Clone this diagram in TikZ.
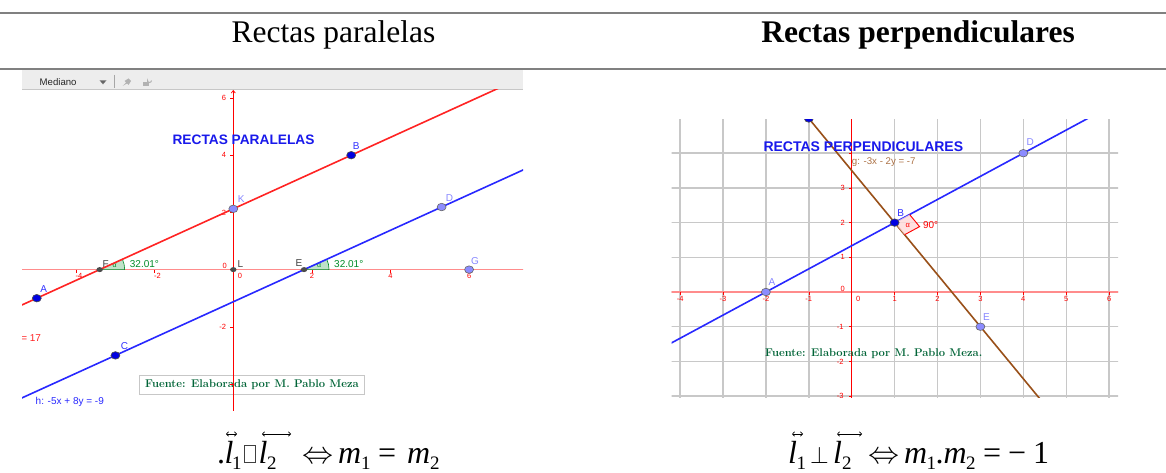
\documentclass[tikz,border=0pt]{standalone}
\usepackage{amsmath}
\usepackage{graphicx}
\usepackage{fontspec}
\newfontfamily\timesfont{Liberation Serif}
\setsansfont{Liberation Sans}
\usetikzlibrary{arrows.meta,shapes.geometric}
\definecolor{ggblue}{RGB}{40,40,255}
\definecolor{ggred}{RGB}{255,35,35}
\definecolor{ggxaxis}{RGB}{255,140,140}
\definecolor{ggbrown}{RGB}{153,80,25}
\definecolor{ggpt}{RGB}{140,140,255}
\definecolor{ggdark}{RGB}{0,0,225}
\definecolor{gglabel}{RGB}{135,135,255}
\definecolor{gglabdark}{RGB}{50,50,255}
\definecolor{ggtitle}{RGB}{25,25,235}
\definecolor{gggreen}{RGB}{0,100,55}
\definecolor{ggangle}{RGB}{0,140,40}
\definecolor{gggrid}{RGB}{200,200,200}
\definecolor{rulegray}{RGB}{128,128,128}
\begin{document}
\begin{tikzpicture}[x=1pt,y=-1pt,
  lbl/.style={font=\sffamily\fontsize{10}{11}\selectfont, inner sep=0pt},
  tick/.style={font=\sffamily\fontsize{7.5}{8}\selectfont, text=red, inner sep=0pt},
  ptl/.style={ellipse, draw=black!60, line width=0.6pt, fill=ggpt, minimum width=9pt, minimum height=7.5pt, inner sep=0pt},
  ptd/.style={ellipse, draw=black!70, line width=0.6pt, fill=ggdark, minimum width=9pt, minimum height=7.5pt, inner sep=0pt},
  pts/.style={ellipse, fill=black!70, minimum width=6.5pt, minimum height=5pt, inner sep=0pt},
  fuente/.style={font=\bfseries\fontsize{11.2}{13}\selectfont, text=gggreen, inner sep=0pt},
  titl/.style={font=\sffamily\bfseries\fontsize{13.7}{15}\selectfont, text=ggtitle, inner sep=0pt, anchor=west},
  head/.style={font=\timesfont\fontsize{31.5}{36}\selectfont, inner sep=0pt, anchor=base},
  fm/.style={font=\timesfont\fontsize{32}{36}\selectfont, inner sep=0pt, anchor=base west},
  fmi/.style={fm, font=\timesfont\itshape\fontsize{32}{36}\selectfont},
  fsub/.style={font=\timesfont\fontsize{19}{21}\selectfont, inner sep=0pt, anchor=base west},
  fsym/.style={font=\fontsize{10}{12}\selectfont, inner sep=0pt, anchor=base west},
  oarrow/.style={line width=0.7pt, {Straight Barb[length=2.2pt,width=4.5pt]}-{Straight Barb[length=2.2pt,width=4.5pt]}},
  sector/.style={fill=ggangle!25, draw=ggangle, line width=0.6pt},
]
\fill[white] (0,0) rectangle (1166,473);
\useasboundingbox (0,0) rectangle (1166,473);
% table rules
\draw[rulegray, line width=2pt] (0,12.7) -- (1166,12.7);
\draw[rulegray, line width=2pt] (0,69.3) -- (1166,69.3);
\node[head] (h1) at (333.5,43) {Rectas paralelas};
\node[head, font=\timesfont\bfseries\fontsize{31.5}{36}\selectfont] (h2) at (918,43) {Rectas perpendiculares};

% ---------- left screenshot: toolbar ----------
\fill[black!7] (22,70.5) rectangle (523,89.5);
\draw[black!22, line width=0.8pt] (22,89.5) -- (523,89.5);
\node[anchor=west, font=\sffamily\fontsize{9.6}{10}\selectfont, text=black!85, inner sep=0pt] (mediano) at (39.5,82) {Mediano};
\fill[black!60] (99.5,80.3) -- (106.5,80.3) -- (103,84.3) -- cycle;
\draw[black!35, line width=0.8pt] (114.5,75) -- (114.5,88);
\fill[black!30] (122.5,86) -- (126,82.5) -- (124.5,81) -- (128.5,78.5) -- (131,81) -- (128.5,85) -- (127,83.5) -- cycle;
\fill[black!30] (143,82.5) rectangle (149,86.5);
\draw[black!30, line width=1pt] (147.5,82.5) -- (147.5,80.5) arc[start angle=180, end angle=0, radius=2];

% ---------- left screenshot: graph ----------
\begin{scope}
\clip (22,89.5) rectangle (523,410);
\begin{scope}[shift={(233.3,269.6)}, x=39.3pt, y=28.6pt]
  \foreach \t/\p in {-4/-3.93,-2/-1.93,2/2,4/4,6/6} \node[tick] (lx\t) at (\p,-0.21) {\t};
  \node[tick] (lx0) at (0.17,-0.21) {0};
  \foreach \t in {6,4,2} \node[tick] (ly\t) at (-0.24,\t) {\t};
  \node[tick] (lym2) at (-0.27,-2) {-2};
  \node[tick] (ly0) at (-0.22,0.14) {0};
  % source box
  \node[fuente, draw=black!22, fill=white, line width=0.8pt, minimum width=224.8pt, minimum height=19.7pt] (fuenteL) at (0.476,-4.03) {Fuente: Elaborada por M. Pablo Meza};
  % axes
  \draw[ggxaxis, line width=1.4pt] (-5.6,0) -- (7.5,0);
  \draw[red, line width=0.7pt, -{Straight Barb[length=2.5pt,width=4pt]}] (0,-5) -- (0,6.28);
  \foreach \t in {-4,-2,2,4,6} \draw[red, line width=0.6pt] (\t,0) -- (\t,-0.12);
  \foreach \t in {-4,-2,2,4,6} \draw[red, line width=0.6pt] (0,\t) -- (-0.08,\t);
  % angle sectors
  \coordinate (cF) at (-3.4,0);
  \coordinate (cE) at (1.8,0);
  \fill[sector] (cF) -- ([xshift=25pt]cF) arc[start angle=0, end angle=24.46, radius=25pt] -- cycle;
  \fill[sector] (cE) -- ([xshift=25pt]cE) arc[start angle=0, end angle=24.46, radius=25pt] -- cycle;
  \node[lbl, font=\sffamily\fontsize{7}{8}\selectfont, text=ggangle] (alF) at ([xshift=15pt,yshift=3.5pt]cF) {α};
  \node[lbl, font=\sffamily\fontsize{7}{8}\selectfont, text=ggangle] (alE) at ([xshift=15pt,yshift=3.5pt]cE) {α};
  \node[lbl, text=ggangle, anchor=west] (angF) at ([xshift=30pt,yshift=6pt]cF) {32.01°};
  \node[lbl, text=ggangle, anchor=west] (angE) at ([xshift=30pt,yshift=6pt]cE) {32.01°};
  % lines
  \draw[ggred, line width=1.6pt] (-6,-1.625) -- (8,7.125);
  \draw[ggblue, line width=1.6pt] (-6,-4.875) -- (8,3.875);
  % points
  \node[ptd] (pA) at (-5,-1) {};
  \node[ptd] (pB) at (3,4) {};
  \node[ptl] (pK) at (0,2.125) {};
  \node[ptd] (pC) at (-3,-3) {};
  \node[ptl] (pD) at (5.3,2.1875) {};
  \node[ptl] (pG) at (6,0) {};
  \node[pts] (pF) at (cF) {};
  \node[pts] (pL) at (0,0) {};
  \node[pts] (pE) at (cE) {};
  \node[lbl, text=gglabdark] (tA) at ([xshift=7pt,yshift=9pt]pA) {A};
  \node[lbl, text=gglabdark] (tB) at ([xshift=5pt,yshift=9pt]pB) {B};
  \node[lbl, text=gglabel] (tK) at ([xshift=8pt,yshift=10pt]pK) {K};
  \node[lbl, text=gglabdark] (tC) at ([xshift=9pt,yshift=9pt]pC) {C};
  \node[lbl, text=gglabel] (tD) at ([xshift=8pt,yshift=9pt]pD) {D};
  \node[lbl, text=gglabel] (tG) at ([xshift=6pt,yshift=9pt]pG) {G};
  \node[lbl, text=black!75] (tF) at ([xshift=6pt,yshift=6pt]pF) {F};
  \node[lbl, text=black!75] (tL) at ([xshift=7pt,yshift=6pt]pL) {L};
  \node[lbl, text=black!75] (tE) at ([xshift=-5pt,yshift=7pt]pE) {E};
  % texts
  \node[titl] (titleL) at (-1.55,4.528) {RECTAS PARALELAS};
  \node[lbl, text=ggblue, anchor=west] (eqh) at (-5.033,-4.612) {h: -5x + 8y = -9};
  \node[lbl, text=ggred, anchor=west] (eqf) at (-5.40,-2.388) {= 17};
\end{scope}
\end{scope}

% ---------- right screenshot ----------
\begin{scope}
\clip (671.7,119.5) rectangle (1118,397.5);
\begin{scope}[shift={(851.7,292)}, x=42.9pt, y=34.7pt]
  \foreach \t in {-4,...,6} \draw[gggrid, line width=1.4pt] (\t,-3.3) -- (\t,5.2);
  \foreach \t in {-3,...,4} \draw[gggrid, line width=1.4pt] (-4.4,\t) -- (6.4,\t);
  \draw[ggxaxis, line width=1.5pt] (-4.4,0) -- (6.4,0);
  \draw[red, line width=0.7pt] (0,-3.3) -- (0,5.2);
  \foreach \t in {-4,...,-1,1,2,...,6} \draw[red, line width=0.5pt] (\t,0) -- (\t,-0.08);
  \foreach \t in {-3,...,-1,1,2,...,4} \draw[red, line width=0.5pt] (0,\t) -- (-0.06,\t);
  \foreach \t in {-4,...,-1,1,2,...,6} \node[tick] (rx\t) at (\t,-0.21) {\t};
  \node[tick] (rx0) at (0.15,-0.21) {0};
  \foreach \t in {1,2,3} \node[tick] (ry\t) at (-0.21,\t) {\t};
  \foreach \t in {-1,-2,-3} \node[tick] (ry\t) at (-0.27,\t) {\t};
  \node[tick] (ry0) at (-0.21,0.1) {0};
  % lines
  \draw[ggblue, line width=1.6pt] (-5,-2) -- (7,6);
  \draw[ggbrown, line width=1.6pt] (-2,6.5) -- (5.5,-4.75);
  % right angle mark
  \coordinate (rB) at (1,2);
  \coordinate (rP1) at (1.349,2.233);
  \coordinate (rC) at (1.582,1.884);
  \coordinate (rP2) at (1.233,1.651);
  \fill[red!15, opacity=0.8] (rB) -- (rP1) -- (rC) -- (rP2) -- cycle;
  \draw[red, line width=0.9pt] (rP1) -- (rC) -- (rP2);
  \node[lbl, font=\sffamily\fontsize{7.5}{8}\selectfont, text=red] (alR) at (1.31,1.93) {α};
  \node[lbl, text=red, anchor=west] (ang90) at (1.66,1.93) {90°};
  % points
  \node[ptl] (qA) at (-2,0) {};
  \node[ptd] (qB) at (1,2) {};
  \node[ptl] (qD) at (4,4) {};
  \node[ptl] (qE) at (3,-1) {};
  \node[ptd] (qT) at (-1,5) {};
  \node[lbl, text=gglabel] (uA) at ([xshift=6pt,yshift=10pt]qA) {A};
  \node[lbl, text=gglabdark] (uB) at ([xshift=6pt,yshift=10pt]qB) {B};
  \node[lbl, text=gglabel] (uD) at ([xshift=7pt,yshift=11pt]qD) {D};
  \node[lbl, text=gglabel] (uE) at ([xshift=6pt,yshift=10pt]qE) {E};
  % texts
  \node[titl, font=\sffamily\bfseries\fontsize{14}{15}\selectfont] (titleR) at (-2.06,4.187) {RECTAS PERPENDICULARES};
  \node[lbl, font=\sffamily\fontsize{9.7}{10}\selectfont, text=ggbrown!80!white, anchor=west] (eqg) at (0,3.755) {g: -3x - 2y = -7};
  \node[fuente, anchor=west] (fuenteR) at (-2.021,-1.767) {Fuente: Elaborada por M. Pablo Meza.};
\end{scope}
\end{scope}

% ---------- formula: parallel ----------
\node[fm] (fLdot) at (217,463) {.};
\node[fmi] (fLl1) at (224.5,463) {l};
\node[fsub] (fLs1) at (232,469) {1};
\node[draw=black!75, line width=0.7pt, minimum width=11pt, minimum height=17pt, inner sep=0pt, anchor=south west] (fLbox) at (244,463) {};
\node[fmi] (fLl2) at (258.5,463) {l};
\node[fsub] (fLs2) at (267,469) {2};
\node[fsym] (fLiff) at (302,463) {\scalebox{3.1}{$\Leftrightarrow$}};
\node[fmi] (fLm1) at (338,463) {m};
\node[fsub] (fLs3) at (361,469) {1};
\node[fm] (fLeq) at (378,463) {=};
\node[fmi] (fLm2) at (407,463) {m};
\node[fsub] (fLs4) at (430,469) {2};
\coordinate (aL1a) at (226,434); \coordinate (aL1b) at (237,434);
\coordinate (aL2a) at (262,434); \coordinate (aL2b) at (291,434);
\draw[oarrow] (aL1a) -- (aL1b);
\draw[oarrow] (aL2a) -- (aL2b);

% ---------- formula: perpendicular ----------
\node[fmi] (fRl1) at (788,463) {l};
\node[fsub] (fRs1) at (796.5,469) {1};
\node[fsym] (fRperp) at (810,463) {\scalebox{2.4}{$\perp$}};
\node[fmi] (fRl2) at (833,463) {l};
\node[fsub] (fRs2) at (842,469) {2};
\node[fsym] (fRiff) at (868,463) {\scalebox{3.1}{$\Leftrightarrow$}};
\node[fmi] (fRm1) at (904,463) {m};
\node[fsub] (fRs3) at (926.5,469) {1};
\node[fm] (fRdot) at (935.5,463) {.};
\node[fmi] (fRm2) at (943.5,463) {m};
\node[fsub] (fRs4) at (966,469) {2};
\node[fm] (fReq) at (983,463) {=};
\node[fm] (fRmin) at (1008,463) {−};
\node[fm] (fRone) at (1033,463) {1};
\coordinate (aR1a) at (792,434); \coordinate (aR1b) at (803,434);
\coordinate (aR2a) at (837,434); \coordinate (aR2b) at (862,434);
\draw[oarrow] (aR1a) -- (aR1b);
\draw[oarrow] (aR2a) -- (aR2b);
\end{tikzpicture}
\end{document}
